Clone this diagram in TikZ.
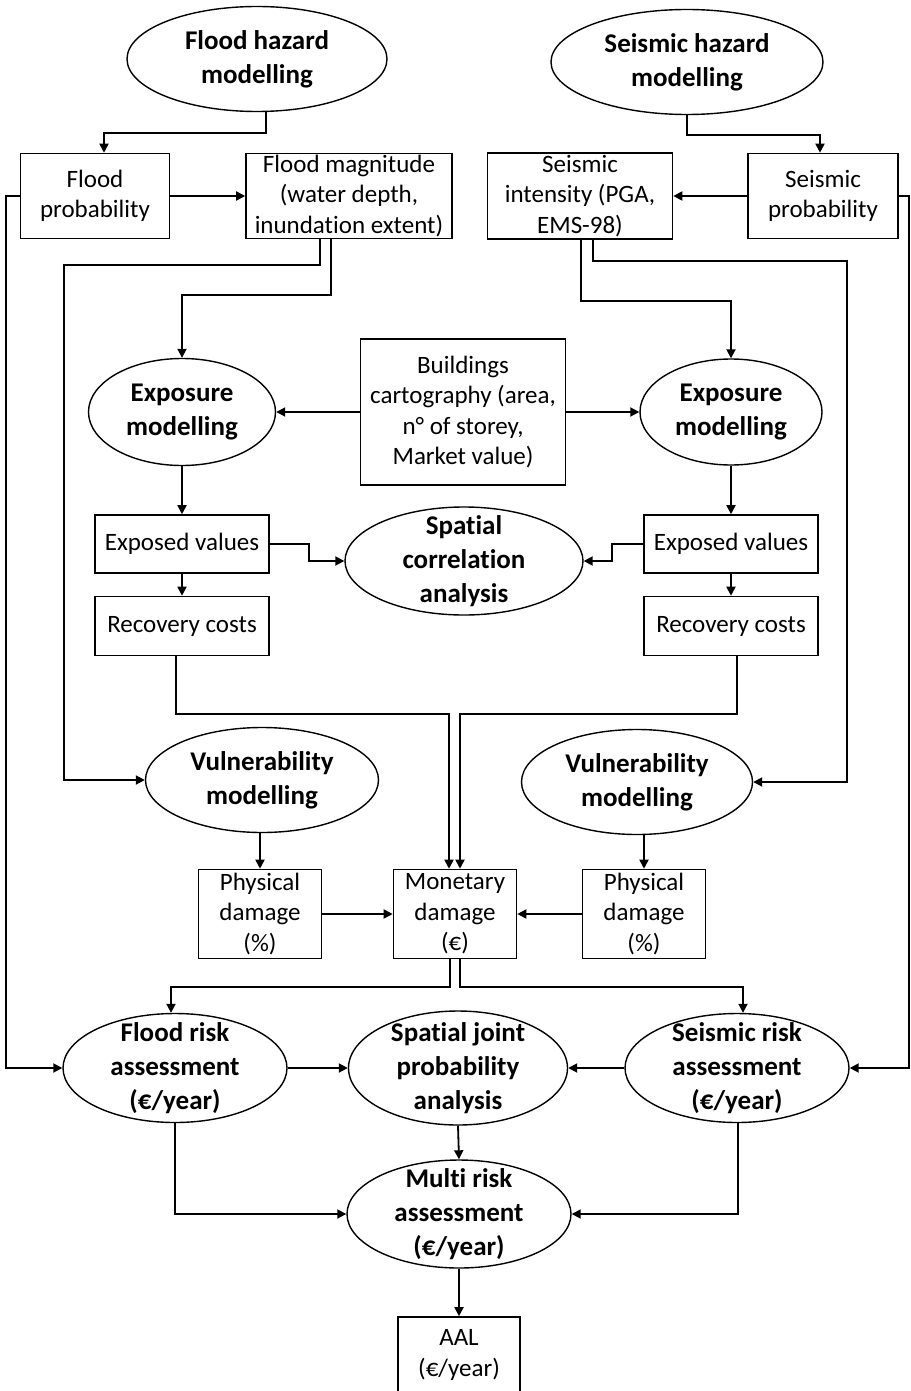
\documentclass[tikz,border=0pt]{standalone}
\usepackage{fontspec}
\setmainfont{Carlito}[Ligatures=NoCommon]
\usetikzlibrary{shapes.geometric, arrows.meta}

\begin{document}
\begin{tikzpicture}[x=1pt, y=-1pt,
    box/.style={draw, rectangle, line width=1.6pt, inner xsep=0pt, inner ysep=-4pt,
                align=center, font=\fontsize{25}{30.5}\selectfont},
    model/.style={draw, ellipse, line width=1.4pt, inner sep=-14pt,
                align=center, font=\fontsize{27}{34}\selectfont\bfseries},
    link/.style={line width=1.8pt, -{Triangle[length=9pt,width=9pt]}}]
    \useasboundingbox (0,0) rectangle (910,1391);

    % Hazard modelling
    \node[model, minimum width=260pt, minimum height=105pt] (fhaz) at (257,59) {Flood hazard\\modelling};
    \node[model, minimum width=272pt, minimum height=105pt] (shaz) at (687,62) {Seismic hazard\\modelling};

    % Hazard outputs
    \node[box, minimum width=149pt, minimum height=85pt] (fprob) at (95,196) {Flood\\probability};
    \node[box, minimum width=206pt, minimum height=85pt] (fmag) at (349,196) {Flood magnitude\\(water depth,\\inundation extent)};
    \node[box, minimum width=185pt, minimum height=86pt] (sint) at (580,196) {Seismic\\intensity (PGA,\\EMS-98)};
    \node[box, minimum width=150pt, minimum height=85pt] (sprob) at (823,196) {Seismic\\probability};

    % Exposure
    \node[model, minimum width=187pt, minimum height=107pt] (fexp) at (182,412) {Exposure\\modelling};
    \node[box, minimum width=205pt, minimum height=146pt] (build) at (463,412) {Buildings\\cartography (area,\\n° of storey,\\Market value)};
    \node[model, minimum width=182pt, minimum height=106pt] (sexp) at (731,412) {Exposure\\modelling};

    \node[box, minimum width=174pt, minimum height=58pt] (fval) at (182,544) {Exposed values};
    \node[model, minimum width=238pt, minimum height=108pt] (corr) at (464,561) {Spatial\\correlation\\analysis};
    \node[box, minimum width=174pt, minimum height=58pt] (sval) at (731,544) {Exposed values};

    \node[box, minimum width=174pt, minimum height=59pt] (fcost) at (182,626) {Recovery costs};
    \node[box, minimum width=174pt, minimum height=59pt] (scost) at (731,626) {Recovery costs};

    % Vulnerability
    \node[model, minimum width=233pt, minimum height=105pt] (fvul) at (262,780) {Vulnerability\\modelling};
    \node[model, minimum width=231pt, minimum height=105pt] (svul) at (637,782) {Vulnerability\\modelling};

    \node[box, minimum width=123pt, minimum height=89pt] (fphys) at (260,914) {Physical\\damage\\(\%)};
    \node[box, minimum width=123pt, minimum height=89pt] (money) at (455,914) {Monetary\\damage\\(€)};
    \node[box, minimum width=123pt, minimum height=89pt] (sphys) at (644,914) {Physical\\damage\\(\%)};

    % Risk
    \node[model, minimum width=224pt, minimum height=109pt] (frisk) at (175,1068) {Flood risk\\assessment\\(€/year)};
    \node[model, minimum width=219pt, minimum height=114pt] (joint) at (458,1068) {Spatial joint\\probability\\analysis};
    \node[model, minimum width=224pt, minimum height=109pt] (srisk) at (737,1068) {Seismic risk\\assessment\\(€/year)};

    \node[model, minimum width=224pt, minimum height=108pt] (multi) at (459,1214) {Multi risk\\assessment\\(€/year)};
    \node[box, minimum width=122pt, minimum height=76pt] (aal) at (459,1355) {AAL\\(€/year)};

    % Arrows, top
    \draw[link] ([xshift=9pt]fhaz.south) -- ++(0,21) -| ([xshift=9pt]fprob.north);
    \draw[link] (shaz.south) -- ++(0,20) -| ([xshift=-3pt]sprob.north);
    \draw[link] (fprob.east) -- (fmag.west);
    \draw[link] (sprob.west) -- (sint.east);
    \draw[link] (fprob.west) -- ++(-14,0) |- (frisk.west);
    \draw[link] (sprob.east) -- ++(10,0) |- (srisk.east);
    \draw[link] ([xshift=-29pt]fmag.south) -- ++(0,26) -- ++(-256,0) |- (fvul.west);
    \draw[link] ([xshift=-18pt]fmag.south) -- ++(0,56) -| (fexp.north);
    \draw[link] ([xshift=1pt]sint.south) -- ++(0,61) -| (sexp.north);
    \draw[link] ([xshift=13pt]sint.south) -- ++(0,21) -- ++(254,0) |- (svul.east);

    % Arrows, exposure
    \draw[link] (build.west) -- (fexp.east);
    \draw[link] (build.east) -- (sexp.west);
    \draw[link] (fexp.south) -- (fval.north);
    \draw[link] (sexp.south) -- (sval.north);
    \draw[link] (fval.east) -- ++(39,0) |- (corr.west);
    \draw[link] (sval.west) -- ++(-31,0) |- (corr.east);
    \draw[link] (fval.south) -- (fcost.north);
    \draw[link] (sval.south) -- (scost.north);
    \draw[link] ([xshift=-6pt]fcost.south) -- ++(0,58) -| ([xshift=-6pt]money.north);
    \draw[link] ([xshift=6pt]scost.south) -- ++(0,58) -| ([xshift=5pt]money.north);

    % Arrows, damage
    \draw[link] (fphys.north |- fvul.south) -- (fphys.north);
    \draw[link] (sphys.north |- svul.south) -- (sphys.north);
    \draw[link] (fphys.east) -- (money.west);
    \draw[link] (sphys.west) -- (money.east);
    \draw[link] ([xshift=-5pt]money.south) -- ++(0,28) -| ([xshift=-4pt]frisk.north);
    \draw[link] ([xshift=5pt]money.south) -- ++(0,28) -| ([xshift=6pt]srisk.north);

    % Arrows, risk
    \draw[link] (frisk.east) -- (joint.west);
    \draw[link] (srisk.west) -- (joint.east);
    \draw[link] (joint.south) -- (multi.north);
    \draw[link] (frisk.south) |- (multi.west);
    \draw[link] ([xshift=1pt]srisk.south) |- (multi.east);
    \draw[link] (multi.south) -- (aal.north);
\end{tikzpicture}
\end{document}
